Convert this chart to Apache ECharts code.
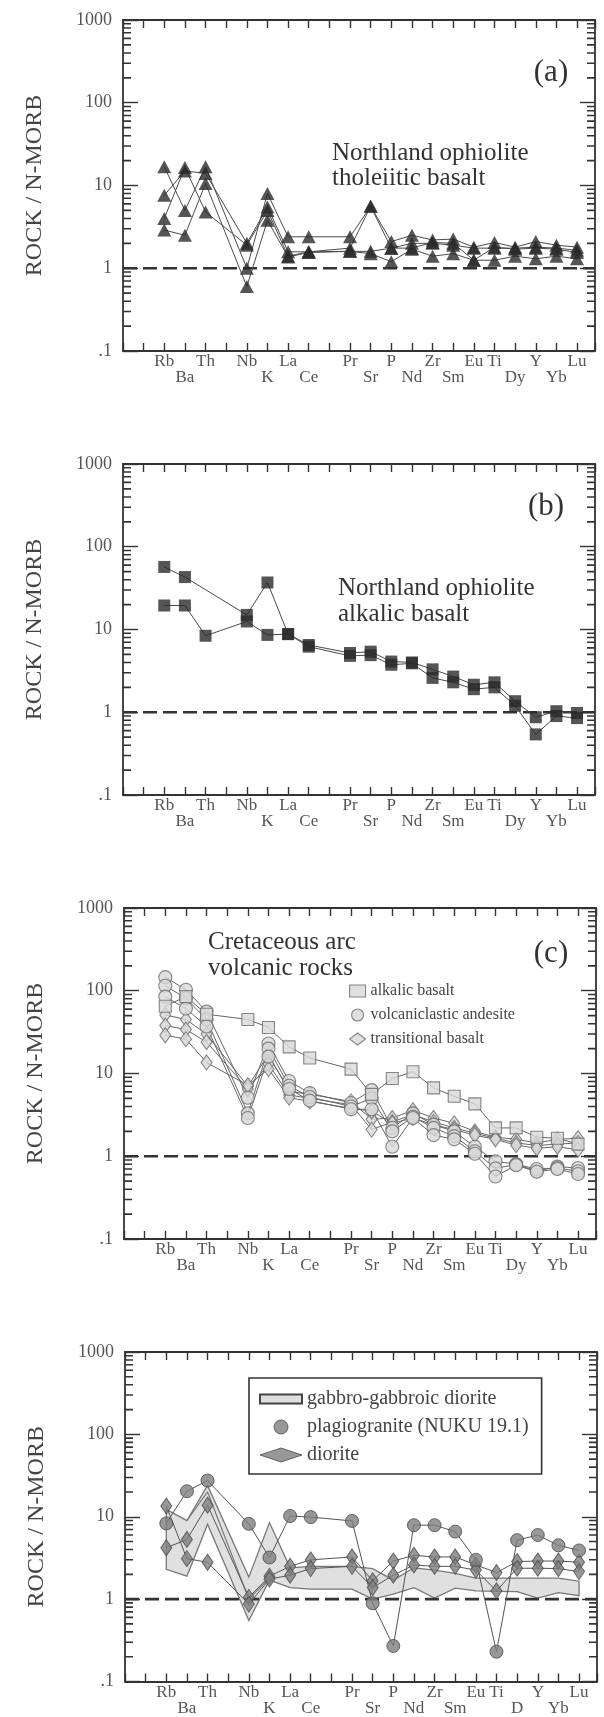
<!DOCTYPE html>
<html><head><meta charset="utf-8">
<script src="https://cdn.jsdelivr.net/npm/echarts@6/dist/echarts.min.js"></script>
<style>html,body{margin:0;padding:0;background:#fff}#c{width:604px;height:1717px}</style>
</head><body><div id="c"></div><script>
// ---------- tick labels ----------
const tickLabels  = ['', 'Rb','Ba','Th','','Nb','K','La','Ce','','Pr','Sr','P','Nd','Zr','Sm','Eu','Ti','Dy','Y','Yb','Lu'];
const tickLabelsD = ['', 'Rb','Ba','Th','','Nb','K','La','Ce','','Pr','Sr','P','Nd','Zr','Sm','Eu','Ti','D','Y','Yb','Lu'];
const lowerRow = ['Ba','K','Ce','Sr','Nd','Sm','Dy','D','Yb'];
const yTickLabels = ['.1','1','10','100','1000'];
const minorTickValues = [0.2,0.3,0.4,0.5,0.6,0.7,0.8,0.9, 2,3,4,5,6,7,8,9, 20,30,40,50,60,70,80,90, 200,300,400,500,600,700,800,900];
const elements = ['Rb','Ba','Th','Nb','K','La','Ce','Pr','Sr','P','Nd','Zr','Sm','Eu','Ti','Dy','Y','Yb','Lu'];

// ---------- (a) Northland ophiolite tholeiitic basalt ----------
const tholA1 = [16.8, 5.0, 16.8, 1.0, 8.0, 2.4, 2.4, 2.4, 5.6, 2.1, 2.5, 2.2, 2.25, 1.8, 2.05, 1.8, 2.1, 1.9, 1.8];
const tholA2 = [7.6, 15, 14, 2.0, 5.5, 1.58, 1.58, 1.75, 5.6, 1.75, 2.0, 2.0, 1.9, 1.75, 1.75, 1.75, 1.8, 1.75, 1.65];
const tholA3 = [4.0, 16.5, 4.8, 1.9, 5.0, 1.4, 1.58, 1.6, 1.6, 1.75, 1.75, 2.05, 2.0, 1.25, 1.8, 1.7, 1.75, 1.7, 1.55];
const tholA4 = [2.9, 2.5, 10.6, 0.6, 3.8, 1.37, 1.55, 1.6, 1.5, 1.2, 1.7, 1.4, 1.5, 1.25, 1.25, 1.4, 1.3, 1.4, 1.3];

// ---------- (b) Northland ophiolite alkalic basalt ----------
const alkB1 = [57, 43, null, 15, 37, 8.8, 6.5, 5.2, 5.4, 4.1, 4.0, 3.3, 2.7, 2.15, 2.3, 1.36, 0.87, 1.03, 0.98];
const alkB2 = [19.5, 19.5, 8.4, 12.5, 8.6, 8.8, 6.2, 4.8, 4.9, 3.75, 3.9, 2.6, 2.3, 1.9, 2.0, 1.2, 0.54, 0.9, 0.85];

// ---------- (c) Cretaceous arc volcanic rocks ----------
const cAlk  = [65, 85, 52, 45, 36, 21, 15.4, 11.3, 5.6, 8.7, 10.5, 6.7, 5.3, 4.3, 2.2, 2.2, 1.7, 1.65, 1.4];
const cAnd1 = [146, 103, 56, 5.1, 23, 8.1, 5.8, 4.4, 6.3, 2.2, 3.3, 2.4, 2.0, 1.3, 0.87, 0.8, 0.66, 0.75, 0.72];
const cAnd2 = [115, 81, 45, 3.3, 20, 7.1, 5.2, 4.0, 5.0, 2.0, 3.0, 2.2, 1.75, 1.15, 0.71, 0.8, 0.7, 0.72, 0.66];
const cAnd3 = [85, 61, 37, 2.9, 16, 6.5, 4.7, 3.7, 3.7, 1.3, 2.9, 1.8, 1.6, 1.07, 0.57, 0.78, 0.65, 0.7, 0.61];
const cTr1  = [51, 45, 30, 7.0, 17, 6.1, 5.6, 4.6, 2.8, 2.9, 3.6, 2.9, 2.5, 2.0, 1.7, 1.6, 1.45, 1.6, 1.65];
const cTr2  = [38, 34, 24, 6.5, 13, 5.5, 5.0, 4.2, 2.1, 2.6, 3.2, 2.6, 2.2, 1.9, 1.65, 1.45, 1.35, 1.4, 1.45];
const cTr3  = [29, 26, 13.6, 7.2, 11.3, 5.1, 4.6, 3.8, 3.5, 2.5, 2.9, 2.4, 2.1, 1.8, 1.6, 1.36, 1.25, 1.3, 1.2];

// ---------- (d) plutonic rocks ----------
const plagio = [8.3, 20.4, 27.5, 8.2, 3.2, 10.2, 9.9, 8.9, 0.89, 0.27, 7.9, 7.9, 6.6, 3.0, 0.23, 5.2, 6.0, 4.5, 3.9];
const dior1  = [4.2, 5.3, 13.8, 1.05, 1.9, 2.5, 3.0, 3.25, 1.67, 2.9, 3.4, 3.25, 3.25, 2.6, 2.1, 2.86, 2.9, 2.9, 2.8];
const dior2  = [13.5, 3.1, 2.8, 0.87, 1.75, 1.95, 2.35, 2.5, 1.38, 1.95, 2.6, 2.5, 2.5, 2.25, 1.26, 2.37, 2.37, 2.35, 2.16];
const gabbroUpper = [12.3, 9.0, 24, 1.85, 8.5, 2.4, 2.5, 2.5, 2.35, 1.7, 2.4, 2.25, 2.05, 1.8, 1.8, 1.8, 1.8, 1.8, 1.65];
const gabbroLower = [2.3, 1.9, 8.1, 0.55, 1.7, 1.38, 1.32, 1.32, 1.0, 1.15, 1.38, 1.03, 1.36, 1.26, 1.24, 1.23, 1.03, 1.2, 1.1];
const gabbroMid   = [null, 9.0, 20, 1.0, 1.8, null, null, null, null, null, null, null, null, null, null, null, null, null, null];

// ---------- layout / style ----------
const FONT = '"Liberation Serif", "Times New Roman", serif';
const AX = '#333';
const X_MIN = -1, X_MAX = 21.87;
const GRID_W = 472;
const MINOR_LEN = 8 * (X_MAX - X_MIN) / GRID_W;   // 8 px in axis units
const grids = [
  {left:123, top:20,   width:GRID_W, height:331},
  {left:123, top:464,  width:GRID_W, height:331},
  {left:124, top:908,  width:GRID_W, height:331},
  {left:125, top:1352, width:GRID_W, height:331}
];

function pts(vals) {
  const out = [];
  elements.forEach((el, i) => { if (vals[i] != null) out.push([tickLabels.indexOf(el), vals[i]]); });
  return out;
}

const xAxis = [], yAxis = [];
grids.forEach((g, i) => {
  const labels = i === 3 ? tickLabelsD : tickLabels;
  const xb = {type:'value', gridIndex:i, min:X_MIN, max:X_MAX, interval:1, splitLine:{show:false},
    axisLine:{show:true, onZero:false, lineStyle:{color:AX, width:1.8}},
    axisTick:{show:true, inside:true, length:8, lineStyle:{color:AX, width:1.4}}};
  xAxis.push(Object.assign({}, xb, {position:'bottom', axisLabel:{show:true, margin:3, fontFamily:FONT, fontSize:17, lineHeight:16, color:'#555',
    formatter: v => { const k = Math.round(v); if (Math.abs(v-k) > 1e-6 || k < 0 || k >= labels.length) return ''; const t = labels[k]; if (!t) return ''; return lowerRow.includes(t) ? '\n' + t : t; }}}));
  xAxis.push(Object.assign({}, xb, {position:'top', axisLabel:{show:false}}));
  const yb = {type:'log', logBase:10, gridIndex:i, min:0.1, max:1000, splitLine:{show:false}, minorTick:{show:false},
    axisLine:{show:true, onZero:false, lineStyle:{color:AX, width:1.8}},
    axisTick:{show:true, inside:true, length:15, lineStyle:{color:AX, width:1.4}}};
  yAxis.push(Object.assign({}, yb, {position:'left', name:'ROCK / N-MORB', nameLocation:'middle', nameGap:76, nameRotate:90,
    nameTextStyle:{fontFamily:FONT, fontSize:24, color:'#444'},
    axisLabel:{show:true, margin:11, fontFamily:FONT, fontSize:18, color:'#555',
      formatter: v => yTickLabels[Math.round(Math.log10(v)) + 1] || ''}}));
  yAxis.push(Object.assign({}, yb, {position:'right', axisLabel:{show:false}}));
});

const series = [];
grids.forEach((g, i) => {
  series.push({type:'line', name:'N-MORB '+i, xAxisIndex:2*i, yAxisIndex:2*i, data:[[X_MIN,1],[X_MAX,1]],
    symbol:'none', showSymbol:false, silent:true, z:3, lineStyle:{color:'#333', width:2.6, type:[14,6]}});
  // log minor ticks along the left and right frame (one short segment per minor value)
  minorTickValues.forEach((v, k) => {
    series.push({type:'line', name:'minorL'+i+'_'+k, xAxisIndex:2*i, yAxisIndex:2*i, data:[[X_MIN, v], [X_MIN + MINOR_LEN, v]],
      symbol:'none', showSymbol:false, silent:true, clip:false, z:7, lineStyle:{color:AX, width:1.6}});
    series.push({type:'line', name:'minorR'+i+'_'+k, xAxisIndex:2*i, yAxisIndex:2*i, data:[[X_MAX - MINOR_LEN, v], [X_MAX, v]],
      symbol:'none', showSymbol:false, silent:true, clip:false, z:7, lineStyle:{color:AX, width:1.6}});
  });
});

function addSample(i, name, vals, sym, size, itemStyle, lineColor) {
  const d = pts(vals);
  series.push({type:'line', name:name+' line', xAxisIndex:2*i, yAxisIndex:2*i, data:d, symbol:'none', showSymbol:false,
    silent:true, z:4, lineStyle:{color:lineColor, width:1}});
  series.push({type:'scatter', name:name, xAxisIndex:2*i, yAxisIndex:2*i, data:d, symbol:sym, symbolSize:size,
    silent:true, z:6, itemStyle:itemStyle});
}

const darkFill = {color:'#2b2b2b'};
[tholA1, tholA2, tholA3, tholA4].forEach((s, k) => addSample(0, 'tholeiite '+k, s, 'triangle', [14,13], darkFill, '#4a4a4a'));
[alkB1, alkB2].forEach((s, k) => addSample(1, 'alkalic '+k, s, 'rect', 12, darkFill, '#4a4a4a'));

const lightStyle = {color:'#d8d8d8', borderColor:'#6a6a6a', borderWidth:1.1};
[cTr1, cTr2, cTr3].forEach(s => addSample(2, 'transitional basalt', s, 'diamond', [11,15], lightStyle, '#666'));
[cAnd1, cAnd2, cAnd3].forEach(s => addSample(2, 'volcaniclastic andesite', s, 'circle', 13, lightStyle, '#666'));
addSample(2, 'alkalic basalt', cAlk, 'rect', 12, lightStyle, '#666');

// gabbro band
series.push({type:'custom', name:'gabbro-gabbroic diorite', xAxisIndex:6, yAxisIndex:6, silent:true, z:1,
  data: pts(gabbroUpper), encode:{x:0, y:1},
  renderItem(params, api) {
    if (params.dataIndex !== 0) return null;
    const up = elements.map((el, k) => api.coord([tickLabels.indexOf(el), gabbroUpper[k]]));
    const lo = elements.map((el, k) => api.coord([tickLabels.indexOf(el), gabbroLower[k]])).reverse();
    return {type:'polygon', shape:{points: up.concat(lo)}, style:{fill:'#e0e0e0', stroke:'#777', lineWidth:1.3}};
  }});
series.push({type:'line', name:'gabbro mid', xAxisIndex:6, yAxisIndex:6, data:pts(gabbroMid), symbol:'none', showSymbol:false,
  silent:true, z:2, lineStyle:{color:'#777', width:1.2}});
const midStyle = {color:'#7e7e7e', borderColor:'#4a4a4a', borderWidth:1};
[dior1, dior2].forEach(s => addSample(3, 'diorite', s, 'diamond', [11,16], midStyle, '#555'));
addSample(3, 'plagiogranite (NUKU 19.1)', plagio, 'circle', 13, midStyle, '#555');

const txt = (x, y, text, size, align) => ({type:'text', x, y, silent:true,
  style:{text, fontFamily:FONT, fontSize:size, fill:'#333', align:align||'left', verticalAlign:'middle'}});

const option = {
  animation:false,
  backgroundColor:'#fff',
  grid: grids,
  xAxis, yAxis, series,
  legend: [
    {left:349, top:983, orient:'vertical', padding:0, itemGap:8, itemWidth:16, itemHeight:12, selectedMode:false,
      textStyle:{fontFamily:FONT, fontSize:16, color:'#444'},
      data:[{name:'alkalic basalt', icon:'rect', itemStyle:lightStyle},
            {name:'volcaniclastic andesite', icon:'circle', itemStyle:lightStyle},
            {name:'transitional basalt', icon:'diamond', itemStyle:lightStyle}]},
    {left:249, top:1378, orient:'vertical', padding:[11,13,9,10], itemGap:8, itemWidth:42, itemHeight:14, selectedMode:false,
      borderColor:'#333', borderWidth:1.6,
      textStyle:{fontFamily:FONT, fontSize:20, color:'#444'},
      data:[{name:'gabbro-gabbroic diorite', icon:'path://M0,0L42,0L42,9L0,9Z', itemStyle:{color:'#e0e0e0', borderColor:'#444', borderWidth:2}},
            {name:'plagiogranite (NUKU 19.1)', icon:'circle', itemStyle:midStyle},
            {name:'diorite', icon:'diamond', itemStyle:midStyle}]}
  ],
  graphic: [
    txt(551, 73, '(a)', 31, 'center'),
    txt(332, 153, 'Northland ophiolite', 25),
    txt(332, 178, 'tholeiitic basalt', 25),
    txt(546, 507, '(b)', 31, 'center'),
    txt(338, 588, 'Northland ophiolite', 25),
    txt(338, 614, 'alkalic basalt', 25),
    txt(551, 954, '(c)', 31, 'center'),
    txt(208, 942, 'Cretaceous arc', 25),
    txt(208, 968, 'volcanic rocks', 25)
  ]
};
const chart = echarts.init(document.getElementById('c'), null, {renderer:'canvas', width:604, height:1717});
chart.setOption(option);
</script></body></html>
